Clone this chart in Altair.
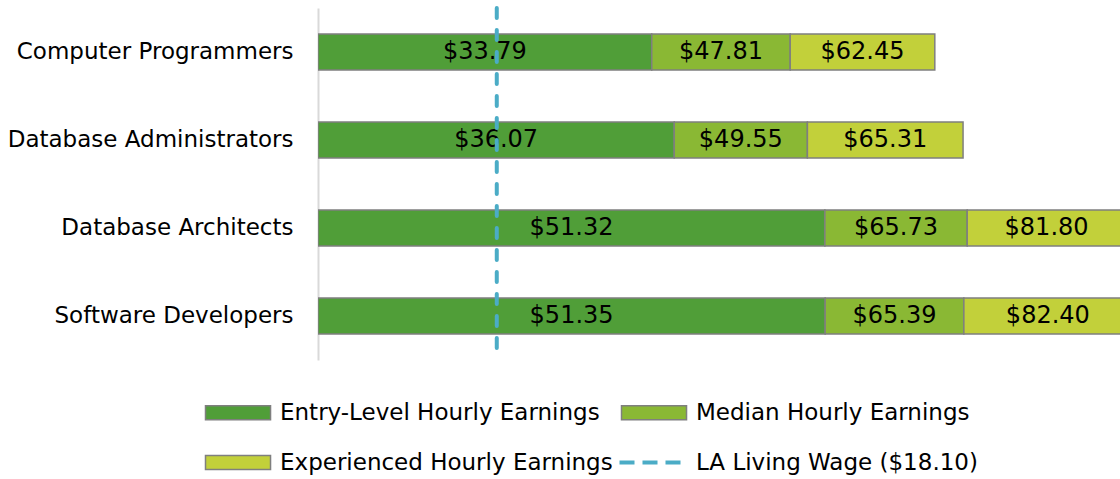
import altair as alt
import pandas as pd

categories = ["Computer Programmers", "Database Administrators", "Database Architects", "Software Developers"]
entry = [33.79, 36.07, 51.32, 51.35]
median = [47.81, 49.55, 65.73, 65.39]
experienced = [62.45, 65.31, 81.80, 82.40]
series = ["Entry-Level Hourly Earnings", "Median Hourly Earnings", "Experienced Hourly Earnings"]
colors = ["#509E38", "#8AB834", "#C2D03A"]
living_wage = [18.10]
living_label = ["LA Living Wage ($18.10)"]

FONT = "DejaVu Sans"

rows = []
for i, c in enumerate(categories):
    vals = [entry[i], median[i], experienced[i]]
    start = 0.0
    for s, v in zip(series, vals):
        rows.append(dict(cat=c, series=s, start=start, end=v, mid=(start + v) / 2, label=f"${v:.2f}"))
        start = v
df = pd.DataFrame(rows)
wage_df = pd.DataFrame({"wage": living_wage, "name": living_label})

xscale = alt.Scale(domain=[0, 81.2], nice=False, zero=True)
yscale = alt.Scale(domain=categories, paddingInner=0.59, paddingOuter=0.295)

base = alt.Chart(df)

bars = base.mark_bar(stroke="#7F7F7F", strokeWidth=1.5, clip=True).encode(
    x=alt.X("start:Q", scale=xscale, axis=None),
    x2="end:Q",
    y=alt.Y("cat:N", scale=yscale, sort=categories, title=None,
            axis=alt.Axis(domain=True, domainColor="#D9D9D9", domainWidth=2, ticks=False,
                          labelFont=FONT, labelFontSize=23, labelColor="black",
                          labelPadding=25, labelLimit=0, grid=False)),
    fill=alt.Fill("series:N", sort=series,
                  scale=alt.Scale(domain=series, range=colors),
                  legend=alt.Legend(title=None, orient="none", legendX=-117, legendY=393,
                                    direction="horizontal", columns=2, columnPadding=4, rowPadding=26,
                                    symbolType="M-1,-1H8.29V1H-1Z", symbolSize=196,
                                    symbolStrokeColor="#7F7F7F", symbolStrokeWidth=1.5,
                                    labelFont=FONT, labelFontSize=23, labelColor="black",
                                    labelOffset=56, padding=0, labelLimit=0)),
)

texts = base.mark_text(font=FONT, fontSize=24, color="black", clip=True).encode(
    x=alt.X("mid:Q", scale=xscale),
    y=alt.Y("cat:N", scale=yscale, sort=categories),
    text="label:N",
)

rule = alt.Chart(wage_df).mark_rule(strokeDash=[10, 12], strokeWidth=4, strokeCap="round").encode(
    x=alt.X("wage:Q", scale=xscale),
    stroke=alt.Stroke("name:N", scale=alt.Scale(range=["#4BACC6"]),
                      legend=alt.Legend(title=None, orient="none", legendX=297, legendY=443,
                                        symbolType="M-1,0H8.29", symbolSize=196, symbolStrokeWidth=4,
                                        symbolDash=[15, 8], symbolFillColor="transparent",
                                        labelFont=FONT, labelFontSize=23, labelColor="black",
                                        labelOffset=58, padding=0, labelLimit=0)),
)

chart = alt.layer(bars, texts, rule).resolve_legend(fill="independent", stroke="independent").properties(
    width=802, height=352,
    autosize=alt.AutoSizeParams(type="none"),
    padding={"left": 318, "top": 8, "right": 0, "bottom": 119},
    background="white",
).configure_view(stroke=None)

chart.save("out.html", embed_options={"renderer": "svg", "actions": False})
